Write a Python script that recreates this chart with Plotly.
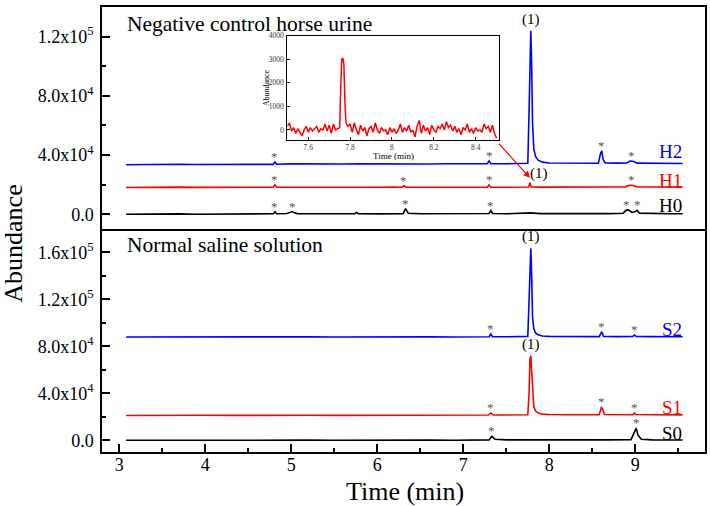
import numpy as np
import plotly.graph_objects as go

# ---------------- data ----------------
H2_t = [3.08, 3.3, 3.5, 3.7, 3.9, 4.1, 4.3, 4.5, 4.7, 4.79, 4.81, 4.83, 5.0, 5.2, 5.4, 5.6, 5.8, 6.0, 6.2, 6.4,
        6.6, 6.8, 7.0, 7.2, 7.28, 7.30, 7.32, 7.5, 7.7, 7.75, 7.765, 7.775, 7.785, 7.795, 7.805, 7.82, 7.84, 7.87,
        7.92, 8.0, 8.2, 8.4, 8.57, 8.595, 8.61, 8.625, 8.65, 8.8, 8.9, 8.94, 8.98, 9.02, 9.2, 9.4, 9.55]
H2_y = [33400, 33700, 33500, 33800, 33600, 33700, 33900, 33700, 33800, 33700, 35300, 33800, 34000, 33800, 34100,
        33900, 34000, 33900, 34100, 34000, 33900, 34100, 34000, 34100, 34100, 36000, 34200, 34100, 34300, 34400,
        70000, 116000, 124000, 100000, 62000, 44000, 39000, 36500, 35200, 34600, 34400, 34300, 34400, 41000,
        42800, 37000, 34600, 34500, 34600, 35900, 35600, 34500, 34400, 34300, 34300]

H1_t = [3.08, 3.3, 3.5, 3.7, 3.9, 4.1, 4.3, 4.5, 4.7, 4.79, 4.81, 4.83, 5.0, 5.2, 5.4, 5.6, 5.8, 6.0, 6.2, 6.29,
        6.31, 6.33, 6.5, 6.7, 6.9, 7.1, 7.28, 7.30, 7.32, 7.5, 7.7, 7.76, 7.775, 7.79, 7.9, 8.1, 8.3, 8.5, 8.7,
        8.88, 8.93, 8.97, 9.02, 9.2, 9.4, 9.55]
H1_y = [18000, 18200, 18100, 18300, 18100, 18200, 18000, 18200, 18100, 18200, 19800, 18300, 18200, 18100, 18300,
        18200, 18000, 18200, 18300, 18200, 19300, 18300, 18200, 18300, 18100, 18200, 18200, 19800, 18300, 18200,
        18300, 18400, 21300, 18400, 18300, 18200, 18400, 18300, 18400, 18500, 19600, 19400, 18500, 18400, 18300,
        18300]

H0_t = [3.08, 3.3, 3.5, 3.7, 3.9, 4.1, 4.3, 4.5, 4.7, 4.79, 4.81, 4.83, 4.95, 5.01, 5.03, 5.07, 5.2, 5.4, 5.6,
        5.74, 5.76, 5.78, 6.0, 6.2, 6.3, 6.33, 6.36, 6.5, 6.7, 6.9, 7.1, 7.3, 7.32, 7.34, 7.5, 7.7, 7.78, 7.9,
        8.1, 8.3, 8.5, 8.7, 8.86, 8.89, 8.92, 8.96, 9.0, 9.02, 9.05, 9.2, 9.4, 9.55]
H0_y = [0, 200, -100, 200, 0, 100, 300, 100, 200, 300, 1500, 300, 500, 1800, 1200, 400, 300, 200, 300, 400, 1200,
        400, 200, 300, 400, 3800, 600, 300, 400, 200, 300, 500, 2500, 500, 300, 400, 900, 400, 300, 500, 300, 400,
        600, 2600, 2900, 1200, 1800, 2600, 700, 400, 300, 300]

S2_t = [3.08, 3.4, 3.7, 4.0, 4.3, 4.6, 4.9, 5.2, 5.5, 5.8, 6.1, 6.4, 6.5, 6.6, 6.9, 7.2, 7.3, 7.32, 7.34, 7.5,
        7.7, 7.75, 7.765, 7.775, 7.785, 7.795, 7.805, 7.82, 7.84, 7.87, 7.92, 8.0, 8.2, 8.4, 8.58, 8.61, 8.63,
        8.8, 8.97, 8.99, 9.01, 9.2, 9.4, 9.55]
S2_y = [88000, 88100, 87900, 88000, 88100, 88000, 87900, 88100, 88000, 88100, 88000, 88100, 88600, 88100, 88000,
        88100, 88200, 90500, 88300, 88200, 88300, 88500, 120000, 158000, 163500, 140000, 105000, 95000, 91500,
        89800, 88900, 88500, 88300, 88200, 88300, 92500, 88500, 88300, 88400, 89700, 88500, 88300, 88200, 88200]

S1_t = [3.08, 3.4, 3.7, 4.0, 4.3, 4.6, 4.9, 5.2, 5.5, 5.8, 6.1, 6.4, 6.7, 7.0, 7.29, 7.32, 7.35, 7.5, 7.7,
        7.75, 7.765, 7.775, 7.785, 7.795, 7.805, 7.82, 7.84, 7.87, 7.92, 8.0, 8.2, 8.4, 8.58, 8.605, 8.62, 8.64,
        8.8, 8.97, 8.99, 9.01, 9.2, 9.4, 9.55]
S1_y = [21100, 21300, 21200, 21300, 21200, 21400, 21200, 21300, 21200, 21300, 21400, 21300, 21400, 21300, 21500,
        23300, 21600, 21500, 21600, 21800, 40000, 69000, 72000, 58000, 38000, 28500, 25000, 23200, 22300, 21900,
        21700, 21600, 21800, 28000, 27000, 22000, 21700, 21800, 23200, 21900, 21700, 21600, 21600]

S0_t = [3.08, 3.4, 3.7, 4.0, 4.3, 4.6, 4.9, 5.2, 5.5, 5.8, 6.1, 6.4, 6.5, 6.6, 6.9, 7.2, 7.3, 7.33, 7.37, 7.5,
        7.8, 8.1, 8.4, 8.7, 8.95, 8.99, 9.01, 9.03, 9.07, 9.2, 9.4, 9.55]
S0_y = [0, 100, 0, 100, 0, 100, 0, 100, 0, 100, 0, 100, 600, 100, 0, 100, 300, 3500, 800, 300, 200, 300, 200,
        300, 500, 7500, 10300, 4500, 800, 300, 200, 200]

inset_t = [7.50, 7.51, 7.52, 7.53, 7.54, 7.55, 7.56, 7.57, 7.58, 7.59, 7.60, 7.61, 7.62, 7.63, 7.64, 7.65, 7.66,
           7.67, 7.68, 7.69, 7.70, 7.71, 7.72, 7.73, 7.74, 7.75, 7.755, 7.76, 7.765, 7.77, 7.775, 7.78, 7.79,
           7.80, 7.81, 7.82, 7.83, 7.84, 7.85, 7.86, 7.87, 7.88, 7.89, 7.90, 7.91, 7.92, 7.93, 7.94, 7.95, 7.96,
           7.97, 7.98, 7.99, 8.00, 8.01, 8.02, 8.03, 8.04, 8.05, 8.06, 8.07, 8.08, 8.09, 8.10, 8.11, 8.12, 8.13,
           8.14, 8.15, 8.16, 8.17, 8.18, 8.19, 8.20, 8.21, 8.22, 8.23, 8.24, 8.25, 8.26, 8.27, 8.28, 8.29, 8.30,
           8.31, 8.32, 8.33, 8.34, 8.35, 8.36, 8.37, 8.38, 8.39, 8.40, 8.41, 8.42, 8.43, 8.44, 8.45, 8.46, 8.47,
           8.48, 8.49, 8.50]
inset_y = [150, 300, -50, 100, -150, 50, -100, -250, 0, 150, -100, 100, -50, 50, 150, -100, 50, 0, 250, -50,
           200, -150, 250, 0, 50, 100, 1800, 3000, 3050, 2800, 1200, 300, 150, 250, -100, 300, 0, -200, 200, -50,
           100, -250, 50, 150, -100, 300, 0, -150, 100, -50, 0, -200, 100, -100, 50, -150, 0, 250, -100, 100, -50,
           200, -100, 0, -300, 150, 400, -150, 200, -50, 100, -200, 200, 0, -100, 150, 50, 250, 0, 350, 100, 200,
           -50, 150, -100, 50, -200, 100, 0, 250, -100, 50, -150, 100, -50, 0, -100, 250, 50, 150, -100, 200, -150,
           -350]

H2_stars = [4.81, 7.30, 8.61, 8.96]
H1_stars = [4.81, 6.31, 7.30, 8.95]
H0_stars = [4.81, 5.02, 6.33, 7.32, 8.90, 9.02]
S2_stars = [7.32, 8.61, 8.99]
S1_stars = [7.32, 8.61, 8.99]
S0_stars = [7.33, 9.01]

x_ticks = [3, 4, 5, 6, 7, 8, 9]
top_ticks = [0, 40000, 80000, 120000]
top_ticktext = ["0.0", "4.0x10<sup>4</sup>", "8.0x10<sup>4</sup>", "1.2x10<sup>5</sup>"]
bot_ticks = [0, 40000, 80000, 120000, 160000]
bot_ticktext = ["0.0", "4.0x10<sup>4</sup>", "8.0x10<sup>4</sup>", "1.2x10<sup>5</sup>", "1.6x10<sup>5</sup>"]
inset_xticks = [7.6, 7.8, 8.0, 8.2, 8.4]
inset_yticks = [0, 1000, 2000, 3000, 4000]

# ---------------- figure ----------------
FONT = "Liberation Serif"
BLUE, RED, BLACK, GRAY = "#0000FF", "#FF0000", "#000000", "#555555"

fig = go.Figure()

top = [("H2", H2_t, H2_y, BLUE, H2_stars, 12), ("H1", H1_t, H1_y, RED, H1_stars, 7),
       ("H0", H0_t, H0_y, BLACK, H0_stars, 8)]
bot = [("S2", S2_t, S2_y, BLUE, S2_stars, 7), ("S1", S1_t, S1_y, RED, S1_stars, 7),
       ("S0", S0_t, S0_y, BLACK, S0_stars, 7)]

ann = []
for group, xa, ya in [(top, "x2", "y2"), (bot, "x", "y")]:
    for name, t, y, col, stars, lab_dy in group:
        fig.add_trace(go.Scatter(x=t, y=y, mode="lines", line=dict(color=col, width=1.6),
                                 xaxis=xa, yaxis=ya, showlegend=False, hoverinfo="skip"))
        ta, yv = np.array(t), np.array(y)
        for s in stars:
            m = np.abs(ta - s) <= 0.03
            ann.append(dict(x=s, y=float(yv[m].max()), xref=xa, yref=ya, text="*", showarrow=False,
                            yanchor="bottom", yshift=-4, font=dict(family=FONT, size=13, color=GRAY)))
        ann.append(dict(x=9.57, y=float(yv[-1]), xref=xa, yref=ya, text=name, showarrow=False,
                        xanchor="right", yanchor="middle", yshift=lab_dy,
                        font=dict(family=FONT, size=19, color=col)))

# peak (1) labels
for t, y, xa, ya in [(H2_t, H2_y, "x2", "y2"), (S2_t, S2_y, "x", "y"), (S1_t, S1_y, "x", "y")]:
    i = int(np.argmax(y))
    ann.append(dict(x=t[i], y=y[i], xref=xa, yref=ya, text="(1)", showarrow=False, yanchor="bottom",
                    yshift=1, font=dict(family=FONT, size=15, color=BLACK)))
i1 = int(np.argmax(np.array(H1_y) * (np.abs(np.array(H1_t) - 7.78) < 0.05)))
ann.append(dict(x=H1_t[i1] + 0.1, y=H1_y[i1], xref="x2", yref="y2", text="(1)", showarrow=False,
                yanchor="middle", yshift=9, font=dict(family=FONT, size=15, color=BLACK)))
# arrow from inset to H1 peak
ann.append(dict(x=H1_t[i1], y=H1_y[i1] + 3300, xref="x2", yref="y2", ax=7.40, ay=48500,
                axref="x2", ayref="y2", showarrow=True, arrowhead=2, arrowsize=1.1, arrowwidth=1.2,
                arrowcolor=RED, text=""))

# inset trace
fig.add_trace(go.Scatter(x=inset_t, y=inset_y, mode="lines", line=dict(color=RED, width=1.5),
                         xaxis="x3", yaxis="y3", showlegend=False, hoverinfo="skip"))

# texts
ann += [
    dict(x=0.038, y=0.962, xref="paper", yref="paper", text="Negative control horse urine", showarrow=False,
         xanchor="left", yanchor="middle", font=dict(family=FONT, size=21.5, color=BLACK)),
    dict(x=0.038, y=0.4655, xref="paper", yref="paper", text="Normal saline solution", showarrow=False,
         xanchor="left", yanchor="middle", font=dict(family=FONT, size=21.5, color=BLACK)),
    dict(x=-0.146, y=0.468, xref="paper", yref="paper", text="Abundance", showarrow=False, textangle=-90,
         xanchor="center", yanchor="middle", font=dict(family=FONT, size=26, color=BLACK)),
    dict(x=0.502, y=-0.089, xref="paper", yref="paper", text="Time (min)", showarrow=False,
         xanchor="center", yanchor="middle", font=dict(family=FONT, size=26, color=BLACK)),
    dict(x=0.3074, y=0.818, xref="paper", yref="paper", text="Abundance", showarrow=False, textangle=-90,
         xanchor="center", yanchor="middle", xshift=-20, font=dict(family=FONT, size=8, color=BLACK)),
    dict(x=0.4826, y=0.7016, xref="paper", yref="paper", text="Time (min)", showarrow=False,
         xanchor="center", yanchor="top", yshift=-9, font=dict(family=FONT, size=9, color=BLACK)),
]

axbase = dict(showline=True, linecolor=BLACK, linewidth=1.5, showgrid=False, zeroline=False)
tickfont = dict(family=FONT, size=18, color=BLACK)

fig.update_layout(
    width=710, height=506, margin=dict(l=102, r=3, t=3, b=54),
    paper_bgcolor="white", plot_bgcolor="rgba(0,0,0,0)",
    annotations=ann,
    xaxis=dict(domain=[0, 1], anchor="y", range=[2.8, 9.81], tickmode="array", tickvals=x_ticks,
               ticks="inside", ticklen=8, tickwidth=1.5, tickcolor=BLACK, tickfont=tickfont,
               ticklabelstandoff=-4, mirror=False,
               minor=dict(ticks="inside", ticklen=4, tickwidth=1.5, tickcolor=BLACK, tickmode="linear",
                          tick0=3.5, dtick=1, showgrid=False), **axbase),
    yaxis=dict(domain=[0, 0.5011], anchor="x", range=[-10000, 180000], tickmode="array", tickvals=bot_ticks,
               ticktext=bot_ticktext, ticks="inside", ticklen=8, tickwidth=1.5, tickcolor=BLACK,
               tickfont=tickfont, ticklabelstandoff=3, mirror=True,
               minor=dict(ticks="inside", ticklen=4, tickwidth=1.5, tickcolor=BLACK, tickmode="linear",
                          tick0=20000, dtick=40000, showgrid=False), **axbase),
    xaxis2=dict(domain=[0, 1], anchor="y2", range=[2.8, 9.81], showticklabels=False, ticks="", mirror=True,
                **axbase),
    yaxis2=dict(domain=[0.5011, 1], anchor="x2", range=[-10000, 140000], tickmode="array", tickvals=top_ticks,
                ticktext=top_ticktext, ticks="inside", ticklen=8, tickwidth=1.5, tickcolor=BLACK,
                tickfont=tickfont, ticklabelstandoff=3, mirror=True,
                minor=dict(ticks="inside", ticklen=4, tickwidth=1.5, tickcolor=BLACK, tickmode="linear",
                           tick0=20000, dtick=40000, showgrid=False), **axbase),
    xaxis3=dict(domain=[0.3074, 0.6579], anchor="y3", range=[7.5, 8.51], tickmode="array",
                tickvals=inset_xticks, ticks="inside", ticklen=3, tickwidth=1, tickcolor=BLACK,
                tickfont=dict(family=FONT, size=7.5, color="#333"), ticklabelstandoff=0,
                showline=True, linecolor=BLACK, linewidth=1, mirror=True, showgrid=False, zeroline=False),
    yaxis3=dict(domain=[0.7016, 0.9354], anchor="x3", range=[-420, 4000], tickmode="array",
                tickvals=inset_yticks, ticks="inside", ticklen=3, tickwidth=1, tickcolor=BLACK,
                tickfont=dict(family=FONT, size=7.5, color="#333"), ticklabelstandoff=1,
                showline=True, linecolor=BLACK, linewidth=1, mirror=True, showgrid=False, zeroline=False),
)

fig.write_html("out.html", config={"displayModeBar": False},
               post_script="document.body.style.margin='0';document.body.style.padding='0';"
                           "document.body.style.overflow='hidden';")
